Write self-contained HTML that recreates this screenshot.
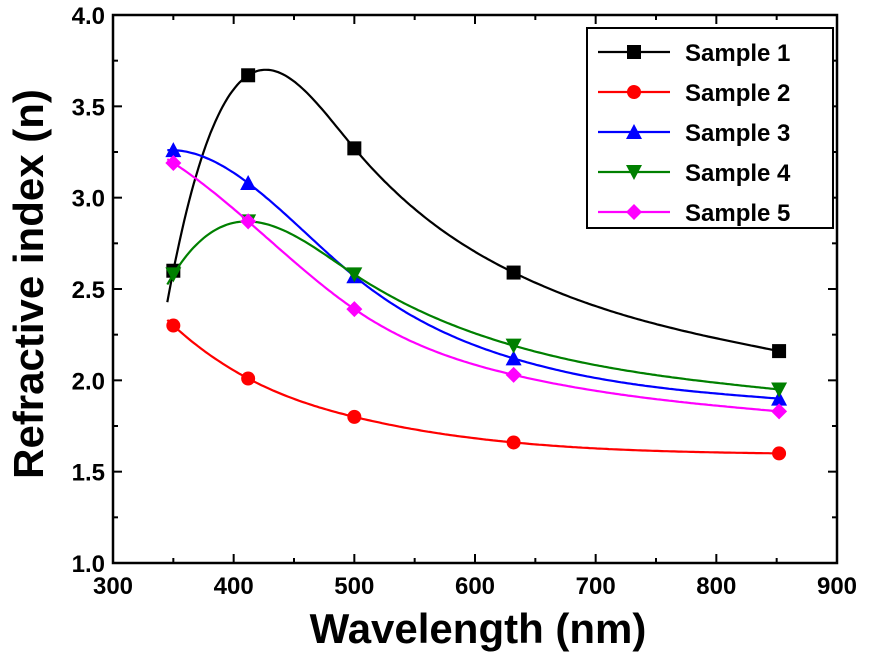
<!DOCTYPE html>
<html><head><meta charset="utf-8"><style>
html,body{margin:0;padding:0;background:#fff;}
svg text{font-family:"Liberation Sans",Arial,sans-serif;font-weight:bold;}
</style></head><body>
<svg id="chart" width="872" height="652" viewBox="0 0 872 652" xmlns="http://www.w3.org/2000/svg"></svg>
<script>
const wavelengths = [350, 412, 500, 632, 852];
const sample1 = [2.60, 3.67, 3.27, 2.59, 2.16];
const sample2 = [2.30, 2.01, 1.80, 1.66, 1.60];
const sample3 = [3.26, 3.08, 2.57, 2.12, 1.90];
const sample4 = [2.58, 2.87, 2.58, 2.19, 1.95];
const sample5 = [3.19, 2.87, 2.39, 2.03, 1.83];
const seriesNames = ["Sample 1","Sample 2","Sample 3","Sample 4","Sample 5"];
const seriesColors = ["#000000","#ff0000","#0000ff","#008000","#ff00ff"];
const seriesMarkers = ["square","circle","triangle-up","triangle-down","diamond"];
const xTicks = [300,400,500,600,700,800,900];
const yTicks = [1.0,1.5,2.0,2.5,3.0,3.5,4.0];

const NS="http://www.w3.org/2000/svg";
const svg=document.getElementById('chart');
const L=113,R=837,T=15,B=563;
const xs=v=>L+(v-300)/600*(R-L);
const ys=v=>B-(v-1)/3*(B-T);
function mk(tag,attrs,parent){const e=document.createElementNS(NS,tag);for(const k in attrs)e.setAttribute(k,attrs[k]);(parent||svg).appendChild(e);return e;}

function solve(A,b){const n=b.length;A=A.map(r=>r.slice());b=b.slice();
  for(let i=0;i<n;i++){let p=i;for(let k=i+1;k<n;k++)if(Math.abs(A[k][i])>Math.abs(A[p][i]))p=k;
    [A[i],A[p]]=[A[p],A[i]];[b[i],b[p]]=[b[p],b[i]];
    for(let k=i+1;k<n;k++){const f=A[k][i]/A[i][i];for(let j=i;j<n;j++)A[k][j]-=f*A[i][j];b[k]-=f*b[i];}}
  const x=new Array(n).fill(0);for(let i=n-1;i>=0;i--){let s=b[i];for(let j=i+1;j<n;j++)s-=A[i][j]*x[j];x[i]=s/A[i][i];}return x;}
// cubic spline: not-a-knot at start, natural at end
function spline(x,y){
  const n=x.length,h=[];for(let i=0;i<n-1;i++)h.push(x[i+1]-x[i]);
  const A=[],b=[];for(let i=0;i<n;i++){A.push(new Array(n).fill(0));b.push(0);}
  A[0][0]=-1/h[0];A[0][1]=1/h[0]+1/h[1];A[0][2]=-1/h[1];
  for(let i=1;i<n-1;i++){A[i][i-1]=h[i-1];A[i][i]=2*(h[i-1]+h[i]);A[i][i+1]=h[i];
    b[i]=6*((y[i+1]-y[i])/h[i]-(y[i]-y[i-1])/h[i-1]);}
  A[n-1][n-1]=1;
  const M=solve(A,b);
  return t=>{let i=0;while(i<n-2&&t>x[i+1])i++;const hh=h[i],a=x[i+1]-t,c=t-x[i];
    return M[i]*a*a*a/(6*hh)+M[i+1]*c*c*c/(6*hh)+(y[i]/hh-M[i]*hh/6)*a+(y[i+1]/hh-M[i+1]*hh/6)*c;};
}
function marker(type,cx,cy,color,parent){
  const s=7;let e;
  if(type==="square")e=mk('rect',{x:cx-s,y:cy-s,width:2*s,height:2*s,fill:color},parent);
  else if(type==="circle")e=mk('circle',{cx:cx,cy:cy,r:s,fill:color},parent);
  else if(type==="triangle-up")e=mk('polygon',{points:`${cx},${cy-s-1} ${cx+s+1},${cy+s} ${cx-s-1},${cy+s}`,fill:color},parent);
  else if(type==="triangle-down")e=mk('polygon',{points:`${cx},${cy+s+1} ${cx+s+1},${cy-s} ${cx-s-1},${cy-s}`,fill:color},parent);
  else e=mk('polygon',{points:`${cx},${cy-s-1} ${cx+s+1},${cy} ${cx},${cy+s+1} ${cx-s-1},${cy}`,fill:color},parent);
  return e;
}

const axes=mk('g',{});


xTicks.forEach((v,i)=>{
  const x=xs(v);
  mk('line',{x1:x,y1:B,x2:x,y2:B-9,stroke:'#000','stroke-width':2},axes);
  mk('line',{x1:x,y1:T,x2:x,y2:T+9,stroke:'#000','stroke-width':2},axes);
  if(i<xTicks.length-1){const xm=xs(v+50);
    mk('line',{x1:xm,y1:B,x2:xm,y2:B-5,stroke:'#000','stroke-width':2},axes);
    mk('line',{x1:xm,y1:T,x2:xm,y2:T+5,stroke:'#000','stroke-width':2},axes);}
  const t=mk('text',{x:x,y:B+31,'text-anchor':'middle','font-size':24},axes);t.textContent=v;
  
  
});
yTicks.forEach((v,i)=>{
  const y=ys(v);
  mk('line',{x1:L,y1:y,x2:L+9,y2:y,stroke:'#000','stroke-width':2},axes);
  mk('line',{x1:R,y1:y,x2:R-9,y2:y,stroke:'#000','stroke-width':2},axes);
  if(i<yTicks.length-1){const ym=ys(v+0.25);
    mk('line',{x1:L,y1:ym,x2:L+5,y2:ym,stroke:'#000','stroke-width':2},axes);
    mk('line',{x1:R,y1:ym,x2:R-5,y2:ym,stroke:'#000','stroke-width':2},axes);}
  const t=mk('text',{x:L-8,y:y+9,'text-anchor':'end','font-size':24},axes);t.textContent=v.toFixed(1);
  
  
});
const xt=mk('text',{x:478,y:643,'text-anchor':'middle','font-size':42},axes);xt.textContent="Wavelength (nm)";


const yt=mk('text',{x:0,y:0,'text-anchor':'middle','font-size':42,transform:`translate(43,${(T+B)/2-5}) rotate(-90)`},axes);yt.textContent="Refractive index (n)";



const all=[sample1,sample2,sample3,sample4,sample5];
all.forEach((ser,si)=>{
  const g=mk('g',{});
  
  
  const f=spline(wavelengths,ser);
  let d='';
  for(let w=345;w<=853;w+=2){d+=(w===345?'M':'L')+xs(w).toFixed(1)+','+ys(f(w)).toFixed(1);}
  const p=mk('path',{d:d,fill:'none',stroke:seriesColors[si],'stroke-width':2.2},g);
  
  
  ser.forEach((v,i)=>{
    const m=marker(seriesMarkers[si],xs(wavelengths[i]),ys(v),seriesColors[si],g);
    
    
  });
});

const fr=mk('rect',{x:L,y:T,width:R-L,height:B-T,fill:'none',stroke:'#000','stroke-width':2.5});



const lg=mk('g',{});


mk('rect',{x:587,y:28,width:246,height:200,fill:'#fff',stroke:'#000','stroke-width':2},lg);
seriesNames.forEach((nm,i)=>{
  const y=52+i*40;
  const e=mk('g',{},lg);
  
  
  mk('line',{x1:598,y1:y,x2:670,y2:y,stroke:seriesColors[i],'stroke-width':2.2},e);
  marker(seriesMarkers[i],634,y,seriesColors[i],e);
  const t=mk('text',{x:685,y:y+9,'font-size':24},e);t.textContent=nm;
});
</script>
</body></html>
